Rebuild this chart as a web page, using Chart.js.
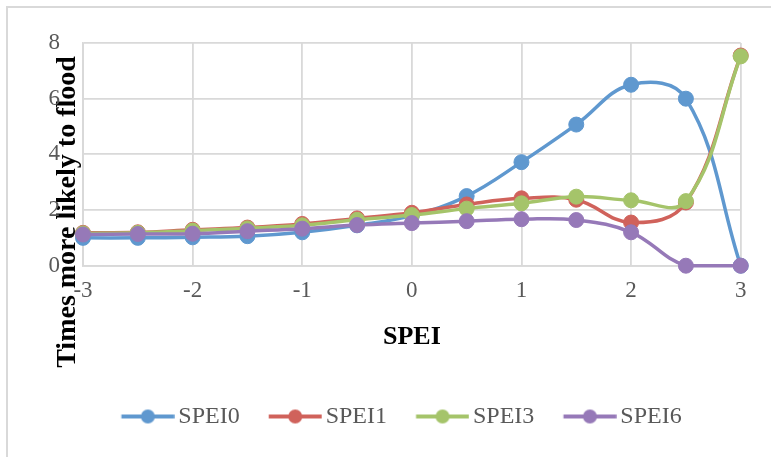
<!DOCTYPE html>
<html>
<head>
<meta charset="utf-8">
<script src="https://cdn.jsdelivr.net/npm/chart.js@4.4.1/dist/chart.umd.min.js"></script>
<style>
  html, body { margin: 0; padding: 0; background: #fff; overflow: hidden; }
  #wrap { position: relative; width: 771px; height: 457px; }
  #frame { position: absolute; left: 6px; top: 6px; width: 900px; height: 600px; border: 2px solid #d9d9d9; }
  #chart { position: absolute; left: 0; top: 0; }
</style>
</head>
<body>
<div id="wrap">
  <div id="frame"></div>
  <canvas id="chart" width="771" height="457"></canvas>
</div>
<script>
// x values (SPEI) and the four series
const spei = [-3, -2.5, -2, -1.5, -1, -0.5, 0, 0.5, 1, 1.5, 2, 2.5, 3];
const spei0 = [1.0, 1.0, 1.02, 1.06, 1.2, 1.45, 1.8, 2.5, 3.72, 5.07, 6.5, 6.0, 0];
const spei1 = [1.18, 1.2, 1.29, 1.37, 1.5, 1.7, 1.9, 2.2, 2.42, 2.37, 1.55, 2.27, 7.55];
const spei3 = [1.16, 1.18, 1.26, 1.34, 1.45, 1.65, 1.82, 2.05, 2.24, 2.48, 2.35, 2.32, 7.52];
const spei6 = [1.12, 1.14, 1.15, 1.24, 1.33, 1.46, 1.53, 1.6, 1.67, 1.64, 1.2, 0, 0];

const seriesNames = ['SPEI0', 'SPEI1', 'SPEI3', 'SPEI6'];
const seriesValues = [spei0, spei1, spei3, spei6];
const colors = ['#5F98CF', '#D0625B', '#A5C46A', '#9679B8'];

const xTitle = 'SPEI';
const yTitle = 'Times more likely to flood';

const gridColor = '#d9d9d9';
const tickColor = '#595959';

// line+dot icons for the legend (drawn off-centre so the legend sits where excel put it)
function makeIcon(color) {
  const c = document.createElement('canvas');
  c.width = 84; c.height = 16;
  const g = c.getContext('2d');
  g.strokeStyle = color;
  g.lineWidth = 4;
  g.beginPath(); g.moveTo(30.7, 8); g.lineTo(83.7, 8); g.stroke();
  g.fillStyle = color;
  g.beginPath(); g.arc(57.2, 8, 7, 0, Math.PI * 2); g.fill();
  return c;
}
const icons = colors.map(makeIcon);

const datasets = seriesNames.map((name, i) => ({
  label: name,
  data: spei.map((x, j) => ({ x: x, y: seriesValues[i][j] })),
  borderColor: colors[i],
  backgroundColor: colors[i],
  pointBackgroundColor: colors[i],
  pointBorderColor: colors[i],
  borderWidth: 3.5,
  pointRadius: 7.5,
  pointBorderWidth: 1,
  tension: 0.4,
  clip: false,
  order: seriesNames.length - 1 - i
}));

// y title sits lower than the plot centre, like the original; drawn first so tick labels overlap it
const yTitlePlugin = {
  id: 'yTitle',
  beforeDraw(chart) {
    const ctx = chart.ctx;
    ctx.save();
    ctx.translate(74.5, 212);
    ctx.rotate(-Math.PI / 2);
    ctx.font = 'bold 28px "Liberation Serif"';
    ctx.fillStyle = '#000';
    ctx.textAlign = 'center';
    ctx.textBaseline = 'alphabetic';
    ctx.fillText(yTitle, 0, 0);
    ctx.restore();
  }
};

Chart.defaults.font.family = '"Liberation Serif", serif';

new Chart(document.getElementById('chart'), {
  type: 'line',
  data: { datasets: datasets },
  options: {
    responsive: false,
    animation: false,
    events: [],
    layout: { padding: { left: 40, right: 30.3, top: 43, bottom: 18.5 } },
    scales: {
      x: {
        type: 'linear',
        min: -3,
        max: 3,
        ticks: {
          stepSize: 1,
          color: tickColor,
          padding: 11.5,
          font: { size: 23, lineHeight: 1.2 }
        },
        grid: { color: gridColor, lineWidth: 1.8, drawTicks: false },
        border: { color: gridColor, width: 1.8 },
        title: {
          display: true,
          text: xTitle,
          color: '#000',
          font: { size: 26, weight: 'bold', lineHeight: 1.2 },
          padding: { top: 5.6, bottom: 44.7 }
        }
      },
      y: {
        min: 0,
        max: 8,
        ticks: {
          stepSize: 2,
          color: tickColor,
          padding: 23,
          font: { size: 23, lineHeight: 1.2 }
        },
        grid: { color: gridColor, lineWidth: 1.8, drawTicks: false },
        border: { color: gridColor, width: 1.8 },
        afterFit(scale) { scale.width = 43; }
      }
    },
    plugins: {
      legend: {
        position: 'bottom',
        labels: {
          usePointStyle: true,
          pointStyleWidth: 67.3,
          padding: 6.7,
          color: tickColor,
          font: { size: 24 },
          sort: (a, b) => a.datasetIndex - b.datasetIndex,
          generateLabels(chart) {
            const items = Chart.defaults.plugins.legend.labels.generateLabels(chart);
            items.forEach(it => { it.pointStyle = icons[it.datasetIndex]; });
            return items;
          }
        }
      },
      tooltip: { enabled: false }
    }
  },
  plugins: [yTitlePlugin]
});
</script>
</body>
</html>
